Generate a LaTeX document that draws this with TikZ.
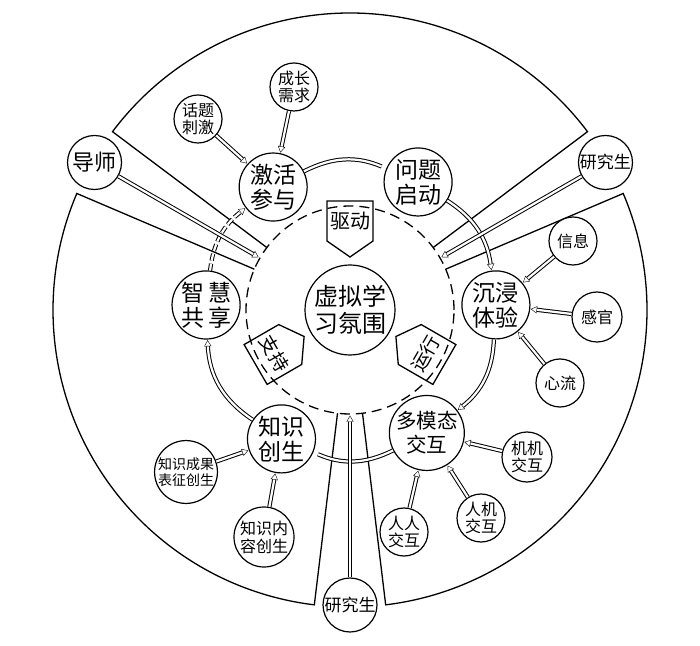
\documentclass[tikz,border=0pt]{standalone}
\usepackage{fontspec}
\newfontfamily\cjk{Noto Sans CJK SC}
\usetikzlibrary{arrows.meta,calc,decorations.markings}
\newcommand\myarr[4]{%
  \draw[dbl,#1] (#3) to[#2] (#4);
  \path[tipmark] (#3) to[#2] (#4);}
\begin{document}
\begin{tikzpicture}[x=1pt,y=1pt,
  circ/.style={circle,draw,line width=1.2pt,fill=white,align=center,inner sep=0pt},
  ringnode/.style={circ,minimum size=68pt,font=\cjk\fontsize{23}{25}\selectfont},
  leaf/.style={circ,minimum size=48pt,font=\cjk\fontsize{16}{17}\selectfont},
  dbl/.style={double=white,double distance=2.2pt,line width=1pt,shorten >=5pt},
  tipmark/.style={line width=0.9pt,decorate,decoration={markings,mark=at position 1 with {\arrow{Triangle[open,fill=white,length=7pt,width=8pt]}}}},
  sector/.style={line width=1.3pt,line join=miter},
  pent/.style={line width=1.3pt,line join=miter},
  pentlabel/.style={inner sep=0pt,font=\cjk\fontsize{19}{19}\selectfont},
  dashring/.style={line width=1.3pt,dash pattern=on 10pt off 6pt}
]
\useasboundingbox (0,0) rectangle (700,645);
\coordinate (C) at (350,335);

% outer sectors
\foreach \a/\b in {36.9/143.1, 156.9/263.1, -83.1/23.1} {
  \draw[sector] ($(C)+(\a:104pt)$) -- ($(C)+(\a:297pt)$)
    arc[start angle=\a, end angle=\b, radius=297pt] -- ($(C)+(\b:104pt)$);
}

% dashed inner circle
\draw[dashring] (C) circle[radius=104pt];

% pentagons
\foreach \t in {90,210,-30} {
  \begin{scope}[shift={(C)}, rotate=\t]
    \draw[pent] (109,-23) -- (109,23) -- (69,23) -- (53,0) -- (69,-23) -- cycle;
  \end{scope}
}
\node[pentlabel, font=\cjk\fontsize{20}{20}\selectfont] (qd) at ($(C)+(90:89pt)$) {驱动};
\node[pentlabel, rotate=-60] (zc) at ($(C)+(210:87pt)$) {支持};
\node[pentlabel, rotate=60] (yx) at ($(C)+(-30:87pt)$) {运行};

% centre
\node[circ, minimum size=90pt, font=\cjk\fontsize{24}{27}\selectfont] (vla) at (C) {虚拟学\\习氛围};

% ring nodes
\node[ringnode] (jh) at ($(C)+(122:145pt)$) {激活\\参与};
\node[ringnode] (wt) at ($(C)+(62:145pt)$) {问题\\启动};
\node[ringnode] (cj) at ($(C)+(2:146pt)$) {沉浸\\体验};
\node[ringnode, font=\cjk\fontsize{20.5}{24}\selectfont] (dm) at ($(C)+(-58:145pt)$) {多模态\\交互};
\node[ringnode] (zs) at ($(C)+(-118:146pt)$) {知识\\创生};
\node[ringnode] (zh) at ($(C)+(178:144pt)$) {智\hspace{4pt}慧\\共\hspace{4pt}享};

% leaf nodes
\node[leaf] (htcj) at (198,526) {话题\\刺激};
\node[leaf] (czxq) at (294,558) {成长\\需求};
\node[circ, minimum size=54pt, font=\cjk\fontsize{22}{22}\selectfont] (ds) at ($(C)+(150:295pt)$) {导师};
\node[circ, minimum size=54pt, font=\cjk\fontsize{17}{17}\selectfont] (yjs1) at ($(C)+(30:295pt)$) {研究生};
\node[leaf] (xx) at (573,404) {信息};
\node[leaf, minimum size=50pt] (gg) at (597,328) {感官};
\node[leaf] (xl) at (560,262) {心流};
\node[leaf, minimum size=50pt] (jj) at (527,188) {机机\\交互};
\node[leaf] (rj) at (481,127) {人机\\交互};
\node[leaf] (rr) at (404,113) {人人\\交互};
\node[circ, minimum size=61pt, font=\cjk\fontsize{14}{16}\selectfont] (cgbz) at (186,173) {知识成果\\表征创生};
\node[circ, minimum size=60pt, font=\cjk\fontsize{16}{18}\selectfont] (nrcs) at (264,108) {知识内\\容创生};
\node[circ, minimum size=54pt, font=\cjk\fontsize{17}{17}\selectfont] (yjs2) at ($(C)+(270:295pt)$) {研究生};

% end points on the dashed circle
\coordinate (dA) at ($(C)+(150:105pt)$);
\coordinate (dB) at ($(C)+(30:105pt)$);
\coordinate (dC) at ($(C)+(270:105pt)$);

% ring arrows
\myarr{}{bend left=25}{jh}{wt}
\myarr{}{bend left=25}{wt}{cj}
\myarr{}{bend left=25}{cj}{dm}
\myarr{}{bend left=25}{dm}{zs}
\myarr{}{bend left=27}{zs}{zh}
\myarr{dash pattern=on 7pt off 3pt}{bend left=23}{zh}{jh}

% leaf arrows
\myarr{}{}{htcj}{jh}
\myarr{}{}{czxq}{jh}
\myarr{}{}{ds}{dA}
\myarr{}{}{yjs1}{dB}
\myarr{}{}{yjs2}{dC}
\myarr{}{}{xx}{cj}
\myarr{}{}{gg}{cj}
\myarr{}{}{xl}{cj}
\myarr{}{}{jj}{dm}
\myarr{}{}{rj}{dm}
\myarr{}{}{rr}{dm}
\myarr{}{}{cgbz}{zs}
\myarr{}{}{nrcs}{zs}
\end{tikzpicture}
\end{document}
